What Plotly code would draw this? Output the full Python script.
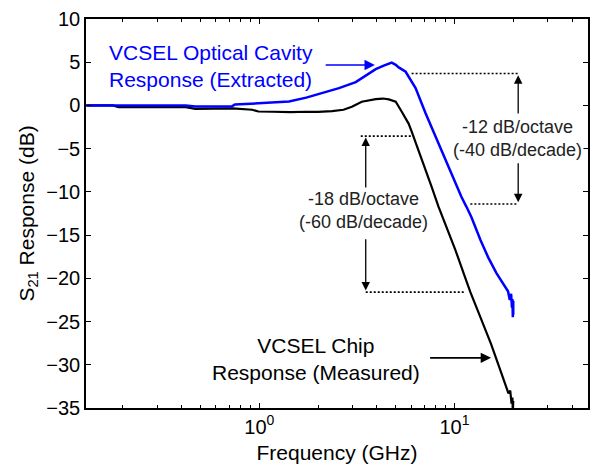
import numpy as np
import plotly.graph_objects as go

# ---- data ----
blue_freq = [0.13, 0.2, 0.3, 0.42, 0.47, 0.6, 0.72, 0.75, 0.9, 1.0, 1.16, 1.42, 1.74, 2.1,
             2.56, 3.12, 3.51, 3.95, 4.34, 4.61, 4.77, 5.0, 5.18, 5.62, 6.32, 7.11, 8.0,
             8.59, 9.55, 10.86, 11.5, 12.2, 13.6, 14.9, 16.4, 18.2, 18.8, 19.2, 19.5,
             19.7, 19.8, 19.9, 20.0, 20.0]
blue_db = [0, 0, 0, 0, -0.12, -0.12, -0.12, 0.1, 0.2, 0.25, 0.4, 0.45, 0.9, 1.4,
           2.0, 2.7, 3.4, 4.2, 4.6, 4.85, 4.95, 4.7, 4.4, 3.9, 2.0, -0.9, -3.6,
           -5.2, -7.8, -10.6, -11.7, -12.9, -15.6, -17.6, -19.4, -21.0, -21.5, -22.5, -21.8,
           -23.4, -22.4, -24.5, -22.6, -24.2]

black_freq = [0.13, 0.178, 0.19, 0.3, 0.42, 0.47, 0.6, 0.73, 0.92, 0.99, 1.17, 1.45, 1.74,
              2.0, 2.36, 2.7, 2.98, 3.35, 3.95, 4.3, 4.61, 5.0, 5.37, 5.82, 6.03, 6.55,
              7.11, 7.63, 8.28, 9.0, 10.1, 11.5, 12.06, 13.3, 15.4, 17.4, 18.9, 19.3,
              19.6, 19.8, 19.9, 20.0]
black_db = [0, 0, -0.2, -0.2, -0.2, -0.4, -0.4, -0.35, -0.5, -0.7, -0.73, -0.78, -0.73,
            -0.75, -0.65, -0.5, -0.15, 0.43, 0.74, 0.8, 0.7, 0.43, -0.73, -2.1, -3.0, -5.2,
            -7.6, -9.4, -11.7, -13.8, -16.7, -20.3, -21.6, -24.0, -27.6, -31.0, -33.3, -33.0,
            -34.5, -33.8, -35.5, -34.2]

# dotted guide lines: (f_start, f_end, level_dB)
guides = [(6.03, 21.2, 3.7), (12.06, 21.2, -11.4), (3.31, 6.03, -3.55), (3.51, 11.4, -21.6)]
# arrows: (f_tail, db_tail, f_tip, db_tip, color)
arrows = [(2.15, 4.67, 3.91, 4.67, "#0000FF"),
          (7.37, -29.2, 15.4, -29.2, "black"),
          (21.2, -1.1, 21.2, 3.5, "black"),
          (21.2, -6.5, 21.2, -11.2, "black"),
          (3.51, -10.2, 3.51, -3.7, "black"),
          (3.51, -15.3, 3.51, -21.4, "black")]

x_ticks = [1, 10]
x_ticktext = ["10<sup>0</sup>", "10<sup>1</sup>"]
x_minor = [0.2, 0.3, 0.4, 0.5, 0.6, 0.7, 0.8, 0.9, 2, 3, 4, 5, 6, 7, 8, 9, 20, 30, 40]
y_ticks = [10, 5, 0, -5, -10, -15, -20, -25, -30, -35]

FONT = "Liberation Sans, Arial, sans-serif"

fig = go.Figure()
fig.add_trace(go.Scatter(x=black_freq, y=black_db, mode="lines",
                         line=dict(color="black", width=2.2), hoverinfo="skip"))
fig.add_trace(go.Scatter(x=blue_freq, y=blue_db, mode="lines",
                         line=dict(color="#0000FF", width=2.5), hoverinfo="skip"))
for f0, f1, lvl in guides:
    fig.add_trace(go.Scatter(x=[f0, f1], y=[lvl, lvl], mode="lines",
                             line=dict(color="black", width=1.6, dash="2px,2px"),
                             hoverinfo="skip"))

annotations = []
for ft, dt, fh, dh, col in arrows:
    annotations.append(dict(x=np.log10(fh), y=dh, ax=np.log10(ft), ay=dt,
                            xref="x", yref="y", axref="x", ayref="y", text="",
                            showarrow=True, arrowhead=2, arrowsize=1.3,
                            arrowwidth=1.6 if col != "black" or dt == -29.2 else 1.3,
                            arrowcolor=col))

annotations += [
    dict(x=np.log10(0.166), y=4.56, xref="x", yref="y", xanchor="left", yanchor="middle",
         text="VCSEL Optical Cavity<br>Response (Extracted)", showarrow=False, align="left",
         font=dict(family=FONT, size=21, color="#0000FF")),
    dict(x=np.log10(1.954), y=-29.3, xref="x", yref="y", xanchor="center", yanchor="middle",
         text="VCSEL Chip<br>Response (Measured)", showarrow=False, align="center",
         font=dict(family=FONT, size=21, color="black")),
    dict(x=np.log10(3.43), y=-12.1, xref="x", yref="y", xanchor="center", yanchor="middle",
         text="-18 dB/octave<br>(-60 dB/decade)", showarrow=False, align="center",
         bgcolor="white", font=dict(family=FONT, size=18, color="#222222")),
    dict(x=np.log10(21.0), y=-3.77, xref="x", yref="y", xanchor="center", yanchor="middle",
         text="-12 dB/octave<br>(-40 dB/decade)", showarrow=False, align="center",
         bgcolor="white", font=dict(family=FONT, size=18, color="#222222")),
]

axis_common = dict(showline=True, linecolor="black", linewidth=1.5, mirror="ticks",
                   ticks="inside", ticklen=5, tickwidth=1, tickcolor="black",
                   showgrid=False, zeroline=False,
                   tickfont=dict(family=FONT, size=20, color="black"))

fig.update_layout(
    width=592, height=470,
    margin=dict(l=86, r=2, t=19, b=62),
    paper_bgcolor="white", plot_bgcolor="white",
    showlegend=False,
    annotations=annotations,
    xaxis=dict(type="log", range=[np.log10(0.1295), np.log10(48.3)],
               tickmode="array", tickvals=x_ticks, ticktext=x_ticktext,
               minor=dict(tickmode="array", tickvals=x_minor, ticks="inside", ticklen=3,
                          tickcolor="black", tickwidth=1),
               title=dict(text="Frequency (GHz)", standoff=9,
                          font=dict(family=FONT, size=21, color="black")),
               **axis_common),
    yaxis=dict(range=[-35, 10], tickmode="array", tickvals=y_ticks,
               title=dict(text="S<sub>21</sub> Response (dB)", standoff=6,
                          font=dict(family=FONT, size=21, color="black")),
               **axis_common),
)

fig.write_html("out.html")
